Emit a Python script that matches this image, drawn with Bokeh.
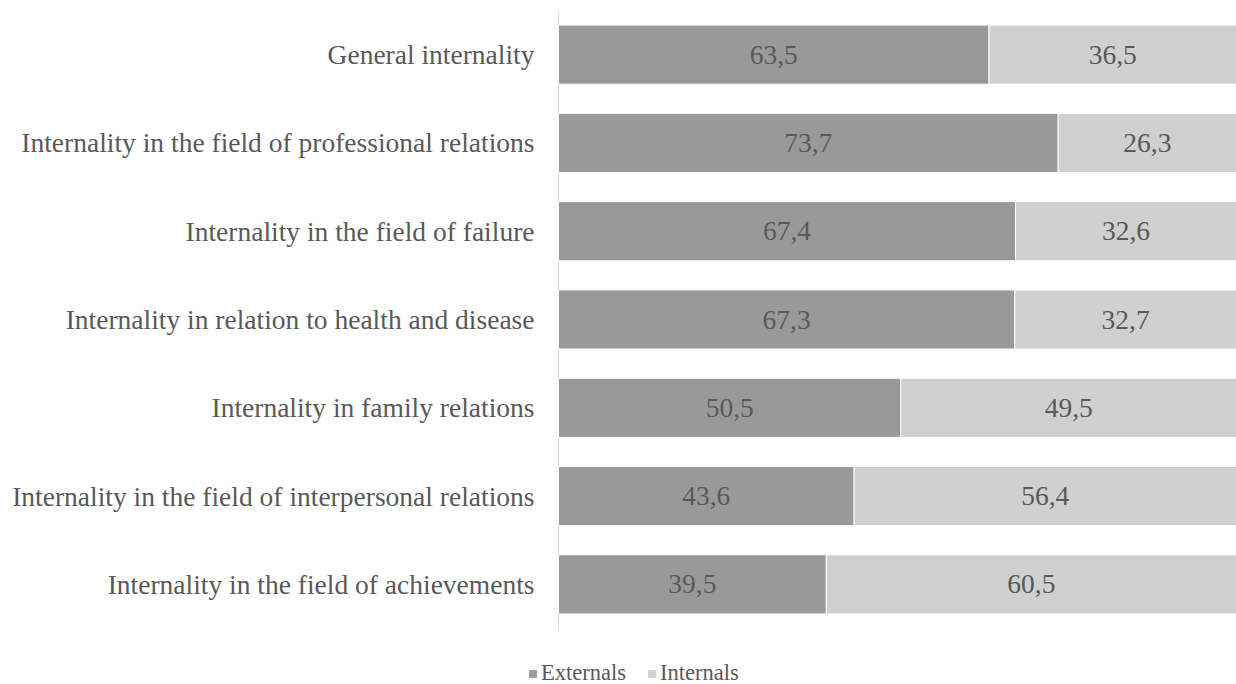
from bokeh.plotting import figure
from bokeh.models import ColumnDataSource, Range1d, Legend, LegendItem
from bokeh.core.properties import value
from bokeh.embed import file_html
from bokeh.resources import INLINE

categories = [
    "General internality",
    "Internality in the field of professional relations",
    "Internality in the field of failure",
    "Internality in relation to health and disease",
    "Internality in family relations",
    "Internality in the field of interpersonal relations",
    "Internality in the field of achievements",
]
externals = [63.5, 73.7, 67.4, 67.3, 50.5, 43.6, 39.5]
internals = [36.5, 26.3, 32.6, 32.7, 49.5, 56.4, 60.5]
series_names = ["Externals", "Internals"]

FONT = "Liberation Serif"
TXT = "#595959"
C_EXT = "#999999"
C_INT = "#d0d0d0"

fmt = lambda v: f"{v:.1f}".replace(".", ",")
n = len(categories)
ypos = [n - 1 - i for i in range(n)]  # first category on top

src = ColumnDataSource(dict(
    y=ypos,
    cat=categories,
    ext=externals,
    int_=internals,
    ext_mid=[e / 2 for e in externals],
    int_left=externals,
    int_right=[e + i for e, i in zip(externals, internals)],
    int_mid=[e + i / 2 for e, i in zip(externals, internals)],
    ext_lbl=[fmt(v) for v in externals],
    int_lbl=[fmt(v) for v in internals],
))

W, H = 1236, 684
FRAME_L, FRAME_T, FRAME_B = 558, 10, 628       # pixel layout of the bar area
px_per_unit_y = (FRAME_B - FRAME_T) / n
px_per_pct = (W - FRAME_L) / 100.0

p = figure(
    width=W, height=H,
    x_range=Range1d(-FRAME_L / px_per_pct, 100),
    y_range=Range1d(-0.5 - (H - FRAME_B) / px_per_unit_y,
                    n - 0.5 + FRAME_T / px_per_unit_y),
    output_backend="svg", toolbar_location=None,
    min_border=0,
)
p.outline_line_color = None
p.xgrid.visible = False
p.ygrid.visible = False
p.xaxis.visible = False
p.yaxis.visible = False

# category axis line
p.segment(x0=[0], x1=[0], y0=[-0.5], y1=[n - 0.5], line_color="#d9d9d9", line_width=1)

r1 = p.hbar(y="y", left=0, right="ext", height=0.67, source=src,
            fill_color=C_EXT, line_color="white", line_width=1)
r2 = p.hbar(y="y", left="int_left", right="int_right", height=0.67, source=src,
            fill_color=C_INT, line_color="white", line_width=1)

p.text(x="ext_mid", y="y", text="ext_lbl", source=src,
       text_align="center", text_baseline="middle",
       text_font=value(FONT), text_font_size="27.5px", text_color=TXT)
p.text(x="int_mid", y="y", text="int_lbl", source=src,
       text_align="center", text_baseline="middle",
       text_font=value(FONT), text_font_size="27.5px", text_color=TXT)

# category labels
p.text(x=0, y="y", text="cat", source=src, x_offset=-24,
       text_align="right", text_baseline="middle",
       text_font=value(FONT), text_font_size="27.5px", text_color=TXT)

legend = Legend(
    items=[LegendItem(label=series_names[0], renderers=[r1]),
           LegendItem(label=series_names[1], renderers=[r2])],
    orientation="horizontal", location=(527, -2),
    label_text_font=FONT, label_text_font_size="22.5px", label_text_color=TXT,
    glyph_width=11, glyph_height=11, label_standoff=3, spacing=20,
    border_line_color=None, background_fill_alpha=0, padding=0, margin=0,
)
p.add_layout(legend)

open("out.html", "w").write(file_html(p, INLINE))
